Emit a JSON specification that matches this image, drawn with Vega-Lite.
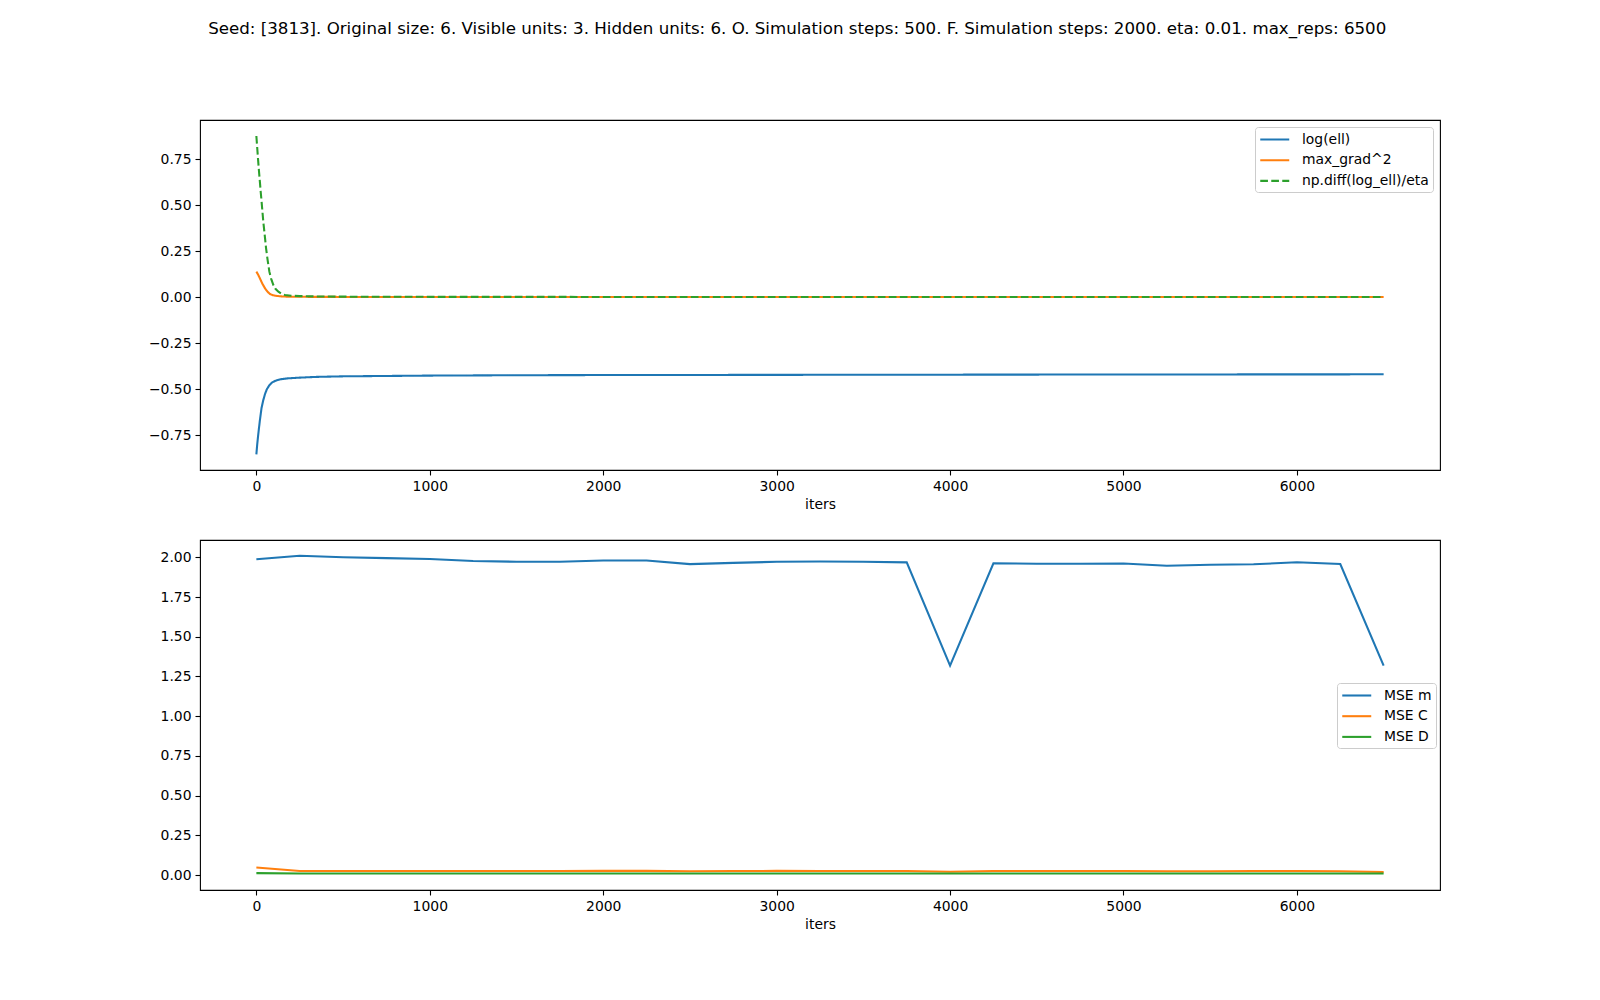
{
  "$schema": "https://vega.github.io/schema/vega-lite/v6.json",
  "background": "white",
  "padding": {"left": 147, "top": 20, "right": 5, "bottom": 5},
  "bounds": "flush",
  "spacing": 70,
  "title": {
    "text": "Seed: [3813]. Original size: 6. Visible units: 3. Hidden units: 6. O. Simulation steps: 500. F. Simulation steps: 2000. eta: 0.01. max_reps: 6500",
    "fontSize": 16.67, "font": "DejaVu Sans", "fontWeight": "normal", "color": "#000", "offset": 82, "anchor": "middle", "dx": 3
  },
  "config": {
    "font": "DejaVu Sans",
    "view": {"stroke": "#000", "strokeWidth": 1.1},
    "axis": {"grid": false, "domain": false, "tickColor": "#000", "tickWidth": 1.1, "tickSize": 5,
      "labelFontSize": 13.9, "labelColor": "#000", "labelPadding": 4, "labelFont": "DejaVu Sans",
      "titleFontSize": 13.9, "titleFontWeight": "normal", "titleColor": "#000", "titlePadding": 5, "titleFont": "DejaVu Sans"},
    "axisY": {"minExtent": 50, "maxExtent": 50},
    "legend": {"labelFontSize": 13.9, "labelColor": "#000", "labelFont": "DejaVu Sans", "symbolType": "M-1,0H3", "symbolSize": 210,
      "symbolStrokeWidth": 2.08, "labelOffset": 26, "rowPadding": 4.7, "padding": 4,
      "fillColor": "rgba(255,255,255,0.8)", "strokeColor": "#cccccc", "cornerRadius": 3}
  },
  "vconcat": [
    {
      "width": 1240, "height": 350,
      "data": {"values": [
        {"iter": 0, "series": "log(ell)", "value": -0.855},
        {"iter": 5, "series": "log(ell)", "value": -0.80},
        {"iter": 10, "series": "log(ell)", "value": -0.755},
        {"iter": 15, "series": "log(ell)", "value": -0.713},
        {"iter": 20, "series": "log(ell)", "value": -0.672},
        {"iter": 30, "series": "log(ell)", "value": -0.602},
        {"iter": 40, "series": "log(ell)", "value": -0.560},
        {"iter": 50, "series": "log(ell)", "value": -0.527},
        {"iter": 60, "series": "log(ell)", "value": -0.502},
        {"iter": 75, "series": "log(ell)", "value": -0.479},
        {"iter": 90, "series": "log(ell)", "value": -0.465},
        {"iter": 110, "series": "log(ell)", "value": -0.455},
        {"iter": 140, "series": "log(ell)", "value": -0.447},
        {"iter": 180, "series": "log(ell)", "value": -0.442},
        {"iter": 250, "series": "log(ell)", "value": -0.438},
        {"iter": 350, "series": "log(ell)", "value": -0.434},
        {"iter": 500, "series": "log(ell)", "value": -0.431},
        {"iter": 750, "series": "log(ell)", "value": -0.429},
        {"iter": 1000, "series": "log(ell)", "value": -0.427},
        {"iter": 1500, "series": "log(ell)", "value": -0.425},
        {"iter": 2000, "series": "log(ell)", "value": -0.424},
        {"iter": 3000, "series": "log(ell)", "value": -0.423},
        {"iter": 4000, "series": "log(ell)", "value": -0.422},
        {"iter": 5000, "series": "log(ell)", "value": -0.421},
        {"iter": 6500, "series": "log(ell)", "value": -0.420},
        {"iter": 0, "series": "max_grad^2", "value": 0.138},
        {"iter": 10, "series": "max_grad^2", "value": 0.122},
        {"iter": 21, "series": "max_grad^2", "value": 0.100},
        {"iter": 35, "series": "max_grad^2", "value": 0.072},
        {"iter": 50, "series": "max_grad^2", "value": 0.047},
        {"iter": 65, "series": "max_grad^2", "value": 0.028},
        {"iter": 79, "series": "max_grad^2", "value": 0.016},
        {"iter": 95, "series": "max_grad^2", "value": 0.010},
        {"iter": 117, "series": "max_grad^2", "value": 0.006},
        {"iter": 150, "series": "max_grad^2", "value": 0.003},
        {"iter": 185, "series": "max_grad^2", "value": 0.002},
        {"iter": 300, "series": "max_grad^2", "value": 0.001},
        {"iter": 500, "series": "max_grad^2", "value": 0.0005},
        {"iter": 6500, "series": "max_grad^2", "value": 0.0},
        {"iter": 0, "series": "np.diff(log_ell)/eta", "value": 0.875},
        {"iter": 5, "series": "np.diff(log_ell)/eta", "value": 0.81},
        {"iter": 10, "series": "np.diff(log_ell)/eta", "value": 0.745},
        {"iter": 15, "series": "np.diff(log_ell)/eta", "value": 0.685},
        {"iter": 20, "series": "np.diff(log_ell)/eta", "value": 0.63},
        {"iter": 25, "series": "np.diff(log_ell)/eta", "value": 0.572},
        {"iter": 30, "series": "np.diff(log_ell)/eta", "value": 0.52},
        {"iter": 40, "series": "np.diff(log_ell)/eta", "value": 0.409},
        {"iter": 50, "series": "np.diff(log_ell)/eta", "value": 0.32},
        {"iter": 56, "series": "np.diff(log_ell)/eta", "value": 0.265},
        {"iter": 65, "series": "np.diff(log_ell)/eta", "value": 0.20},
        {"iter": 75, "series": "np.diff(log_ell)/eta", "value": 0.138},
        {"iter": 85, "series": "np.diff(log_ell)/eta", "value": 0.10},
        {"iter": 98, "series": "np.diff(log_ell)/eta", "value": 0.065},
        {"iter": 110, "series": "np.diff(log_ell)/eta", "value": 0.045},
        {"iter": 127, "series": "np.diff(log_ell)/eta", "value": 0.029},
        {"iter": 145, "series": "np.diff(log_ell)/eta", "value": 0.018},
        {"iter": 165, "series": "np.diff(log_ell)/eta", "value": 0.011},
        {"iter": 200, "series": "np.diff(log_ell)/eta", "value": 0.007},
        {"iter": 250, "series": "np.diff(log_ell)/eta", "value": 0.005},
        {"iter": 350, "series": "np.diff(log_ell)/eta", "value": 0.003},
        {"iter": 500, "series": "np.diff(log_ell)/eta", "value": 0.002},
        {"iter": 1000, "series": "np.diff(log_ell)/eta", "value": 0.001},
        {"iter": 2000, "series": "np.diff(log_ell)/eta", "value": 0.0005},
        {"iter": 6499, "series": "np.diff(log_ell)/eta", "value": 0.0002}
      ]},
      "mark": {"type": "line", "strokeWidth": 2.08, "clip": true},
      "encoding": {
        "x": {"field": "iter", "type": "quantitative", "title": "iters",
          "scale": {"domain": [-325, 6825], "nice": false, "zero": false},
          "axis": {"values": [0, 1000, 2000, 3000, 4000, 5000, 6000], "format": "d"}},
        "y": {"field": "value", "type": "quantitative", "title": null,
          "scale": {"domain": [-0.940, 0.962], "nice": false, "zero": false},
          "axis": {"values": [-0.75, -0.5, -0.25, 0, 0.25, 0.5, 0.75], "format": ".2f"}},
        "color": {"field": "series", "type": "nominal", "title": null,
          "scale": {"domain": ["log(ell)", "max_grad^2", "np.diff(log_ell)/eta"], "range": ["#1f77b4", "#ff7f0e", "#2ca02c"]},
          "legend": {"orient": "top-right", "offset": 7}},
        "strokeDash": {"field": "series", "type": "nominal", "title": null,
          "scale": {"domain": ["log(ell)", "max_grad^2", "np.diff(log_ell)/eta"], "range": [[1, 0], [1, 0], [7.7, 3.3]]},
          "legend": {"orient": "top-right", "offset": 7}}
      }
    },
    {
      "width": 1240, "height": 350,
      "data": {"values": [
        {"iter": 0, "MSE m": 1.988, "MSE C": 0.047, "MSE D": 0.012},
        {"iter": 250, "MSE m": 2.010, "MSE C": 0.025, "MSE D": 0.010},
        {"iter": 500, "MSE m": 2.000, "MSE C": 0.025, "MSE D": 0.010},
        {"iter": 750, "MSE m": 1.995, "MSE C": 0.025, "MSE D": 0.010},
        {"iter": 1000, "MSE m": 1.989, "MSE C": 0.025, "MSE D": 0.010},
        {"iter": 1250, "MSE m": 1.977, "MSE C": 0.025, "MSE D": 0.010},
        {"iter": 1500, "MSE m": 1.972, "MSE C": 0.025, "MSE D": 0.010},
        {"iter": 1750, "MSE m": 1.972, "MSE C": 0.025, "MSE D": 0.010},
        {"iter": 2000, "MSE m": 1.980, "MSE C": 0.026, "MSE D": 0.010},
        {"iter": 2250, "MSE m": 1.980, "MSE C": 0.026, "MSE D": 0.010},
        {"iter": 2500, "MSE m": 1.957, "MSE C": 0.024, "MSE D": 0.010},
        {"iter": 2750, "MSE m": 1.965, "MSE C": 0.025, "MSE D": 0.010},
        {"iter": 3000, "MSE m": 1.972, "MSE C": 0.026, "MSE D": 0.010},
        {"iter": 3250, "MSE m": 1.974, "MSE C": 0.025, "MSE D": 0.010},
        {"iter": 3500, "MSE m": 1.972, "MSE C": 0.025, "MSE D": 0.010},
        {"iter": 3750, "MSE m": 1.968, "MSE C": 0.025, "MSE D": 0.010},
        {"iter": 4000, "MSE m": 1.318, "MSE C": 0.021, "MSE D": 0.009},
        {"iter": 4250, "MSE m": 1.962, "MSE C": 0.025, "MSE D": 0.010},
        {"iter": 4500, "MSE m": 1.960, "MSE C": 0.025, "MSE D": 0.010},
        {"iter": 4750, "MSE m": 1.960, "MSE C": 0.025, "MSE D": 0.010},
        {"iter": 5000, "MSE m": 1.961, "MSE C": 0.025, "MSE D": 0.010},
        {"iter": 5250, "MSE m": 1.947, "MSE C": 0.024, "MSE D": 0.010},
        {"iter": 5500, "MSE m": 1.953, "MSE C": 0.024, "MSE D": 0.010},
        {"iter": 5750, "MSE m": 1.956, "MSE C": 0.025, "MSE D": 0.010},
        {"iter": 6000, "MSE m": 1.969, "MSE C": 0.025, "MSE D": 0.010},
        {"iter": 6250, "MSE m": 1.958, "MSE C": 0.024, "MSE D": 0.010},
        {"iter": 6500, "MSE m": 1.318, "MSE C": 0.019, "MSE D": 0.009}
      ]},
      "transform": [{"fold": ["MSE m", "MSE C", "MSE D"], "as": ["series", "value"]}],
      "mark": {"type": "line", "strokeWidth": 2.08, "clip": true},
      "encoding": {
        "x": {"field": "iter", "type": "quantitative", "title": "iters",
          "scale": {"domain": [-325, 6825], "nice": false, "zero": false},
          "axis": {"values": [0, 1000, 2000, 3000, 4000, 5000, 6000], "format": "d"}},
        "y": {"field": "value", "type": "quantitative", "title": null,
          "scale": {"domain": [-0.0944, 2.109], "nice": false, "zero": false},
          "axis": {"values": [0, 0.25, 0.5, 0.75, 1, 1.25, 1.5, 1.75, 2], "format": ".2f"}},
        "color": {"field": "series", "type": "nominal", "title": null,
          "scale": {"domain": ["MSE m", "MSE C", "MSE D"], "range": ["#1f77b4", "#ff7f0e", "#2ca02c"]},
          "legend": {"orient": "none", "legendX": 1137, "legendY": 143}}
      }
    }
  ],
  "resolve": {"scale": {"color": "independent", "strokeDash": "independent"}, "legend": {"color": "independent"}}
}
